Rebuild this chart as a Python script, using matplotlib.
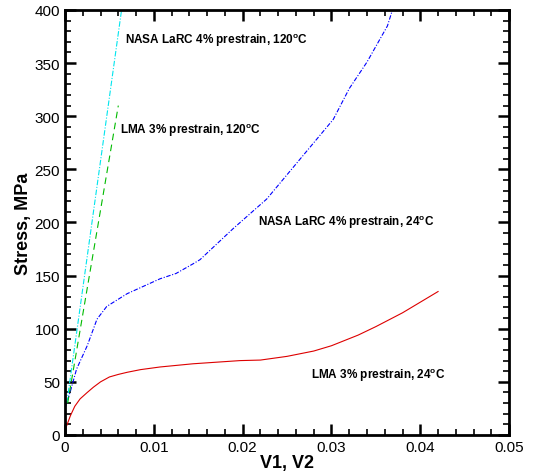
import matplotlib
matplotlib.use("Agg")
import matplotlib.pyplot as plt
from matplotlib.ticker import MultipleLocator

plt.rcParams["font.family"] = ["Liberation Sans", "DejaVu Sans"]
plt.rcParams["mathtext.fontset"] = "custom"
plt.rcParams["mathtext.bf"] = "Liberation Sans:bold"
plt.rcParams["mathtext.rm"] = "Liberation Sans"

# LMA 3% prestrain, 24C
lma24_x = [0.0002, 0.0006, 0.0011, 0.0017, 0.0025, 0.0032, 0.004, 0.005, 0.006, 0.007,
           0.0085, 0.0107, 0.0144, 0.0197, 0.022, 0.025, 0.028, 0.030, 0.033, 0.035,
           0.038, 0.040, 0.042]
lma24_y = [9, 18, 27, 34, 40, 45, 50, 54.6, 57, 59,
           61.5, 64, 67, 70, 70.5, 74, 79, 84, 94, 102,
           115, 125, 135]

# NASA LaRC 4% prestrain, 24C
nasa24_x = [0.0, 0.0006, 0.0013, 0.0025, 0.0036, 0.0047, 0.007, 0.0107, 0.0125, 0.0144,
            0.0152, 0.0189, 0.0227, 0.0265, 0.0302, 0.032, 0.034, 0.0363, 0.0369]
nasa24_y = [25, 41, 62, 84, 109, 121, 133, 147, 152, 161,
            165, 194, 222, 260, 297, 326, 351, 385, 401]

# NASA LaRC 4% prestrain, 120C
nasa120_x = [0.0002, 0.0064]
nasa120_y = [30, 402]

# LMA 3% prestrain, 120C
lma120_x = [0.0003, 0.0060]
lma120_y = [30, 310]

deg = r"$^{\mathbf{o}}$C"
labels = ["NASA LaRC 4% prestrain, 120" + deg, "LMA 3% prestrain, 120" + deg,
          "NASA LaRC 4% prestrain, 24" + deg, "LMA 3% prestrain, 24" + deg]
label_x = [0.0068, 0.0062, 0.0217, 0.0277]
label_y = [372, 287, 201, 57]

fig = plt.figure(figsize=(5.51, 4.77), dpi=100)
ax = fig.add_axes([0.118, 0.086, 0.806, 0.891])

ax.plot(lma24_x, lma24_y, color="#dd0000", lw=0.8)
ax.plot(nasa24_x, nasa24_y, color="#0000ff", lw=0.8, linestyle=(0, (4, 1.5, 1, 1.5)))
ax.plot(nasa120_x, nasa120_y, color="#00e5ee", lw=0.8, linestyle=(0, (5, 1.5, 1, 1.5)))
ax.plot(lma120_x, lma120_y, color="#00bb00", lw=0.8, linestyle=(0, (6, 4)))

for text, tx, ty in zip(labels, label_x, label_y):
    ax.text(tx, ty, text, fontsize=8.5, fontweight="bold", va="center", ha="left")

ax.set_xlim(0, 0.05)
ax.set_ylim(0, 400)
ax.xaxis.set_major_locator(MultipleLocator(0.01))
ax.xaxis.set_minor_locator(MultipleLocator(0.002))
ax.yaxis.set_major_locator(MultipleLocator(50))
ax.yaxis.set_minor_locator(MultipleLocator(10))
ax.set_xticks([0, 0.01, 0.02, 0.03, 0.04, 0.05], ["0", "0.01", "0.02", "0.03", "0.04", "0.05"])

ax.tick_params(which="both", direction="in", top=True, right=True, width=1.2, labelsize=11)
ax.tick_params(which="major", length=8, width=1.8)
ax.tick_params(which="minor", length=4)
for spine in ax.spines.values():
    spine.set_linewidth(2)

ax.set_xlabel("V1, V2", fontsize=13, fontweight="bold", labelpad=0)
ax.set_ylabel("Stress, MPa", fontsize=13, fontweight="bold", labelpad=2)

fig.savefig("out.png", dpi=100)
